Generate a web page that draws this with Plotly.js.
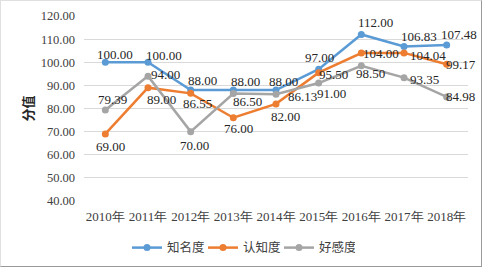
<!DOCTYPE html>
<html>
<head>
<meta charset="utf-8">
<script src="https://cdn.plot.ly/plotly-3.0.1.min.js"></script>
<style>
html,body{margin:0;padding:0;background:#fff;}
#frame{position:absolute;left:0;top:0;width:480px;height:265px;border-left:1px solid #e0e0e0;border-top:1px solid #e0e0e0;border-right:1px solid #9a9a9a;border-bottom:1px solid #9a9a9a;}
#chart{width:480px;height:265px;}
</style>
</head>
<body>
<div id="frame"><div id="chart"></div></div>
<script>
// Data
var years = ["2010年","2011年","2012年","2013年","2014年","2015年","2016年","2017年","2018年"];
var seriesNames = ["知名度","认知度","好感度"];
var zhimingdu = [100, 100, 88, 88, 88, 97, 112, 106.83, 107.48];
var renzhidu = [69, 89, 86.55, 76, 82, 95.5, 104, 104.04, 99.17];
var haoganudu = [79.39, 94, 70, 86.5, 86.13, 91, 98.5, 93.35, 84.98];
var yTicks = [40, 50, 60, 70, 80, 90, 100, 110, 120];

// Styles
var colors = ["#5B9BD5", "#ED7D31", "#A5A5A5"];
// label offsets in px (dx right, dy down)
var labelDx = [
  [10, 16, 12, 12, 7, 1, 14, 15, 12],
  [5, 13, 7, 5, 9, 15, 20, 24, 14],
  [7, 17, 4, 14, 26, 13, 9, 20, 14]
];
var labelDy = [
  [-8, -7, -10, -9, -9, -12, -12, -10, -10],
  [13, 12, 10, 11, 13, 2, 0, 3, 0],
  [-10, -2, 14, 8, 2, 10, 8, 2, 0]
];

var allSeries = [zhimingdu, renzhidu, haoganudu];
var serif = "Liberation Serif";
var traces = allSeries.map(function(vals, i){
  return {
    x: years, y: vals, name: seriesNames[i], type: "scatter", mode: "lines+markers",
    line: {color: colors[i], width: 2.5},
    marker: {color: colors[i], size: 7},
    hoverinfo: "skip"
  };
});

var annotations = [];
allSeries.forEach(function(vals, i){
  vals.forEach(function(v, j){
    annotations.push({
      x: years[j], y: v, xref: "x", yref: "y",
      text: v.toFixed(2), showarrow: false,
      xanchor: "center", yanchor: "middle",
      xshift: labelDx[i][j], yshift: -labelDy[i][j],
      font: {family: serif, size: 13, color: "#262626"}
    });
  });
});
annotations.push({
  text: "<b>分值</b>", xref: "paper", yref: "paper", x: 0, y: 0.5,
  xanchor: "center", yanchor: "middle", xshift: -57, textangle: -90, showarrow: false,
  font: {family: "Noto Sans CJK SC", size: 13, color: "#262626"}
});

var layout = {
  width: 480, height: 265,
  margin: {l: 83, r: 13, t: 15, b: 65},
  paper_bgcolor: "#fff", plot_bgcolor: "#fff",
  showlegend: true,
  legend: {
    orientation: "h", xref: "container", yref: "container",
    x: 0.5, xanchor: "center", y: 0.068, yanchor: "middle",
    entrywidth: 31,
    font: {family: "Noto Sans CJK SC", size: 12.5, color: "#404040"}
  },
  xaxis: {
    type: "category", range: [-0.5, 8.5], showgrid: false, zeroline: false, showline: false,
    ticks: "", ticklabelstandoff: 6,
    tickfont: {family: serif, size: 13, color: "#404040"}
  },
  yaxis: {
    range: [40, 120], tickvals: yTicks, ticktext: yTicks.map(function(t){return t.toFixed(2);}),
    showgrid: true, gridcolor: "#d9d9d9", gridwidth: 1, zeroline: false, showline: false,
    ticks: "", ticklabelstandoff: 8,
    tickfont: {family: serif, size: 12.5, color: "#404040"}
  },
  annotations: annotations
};

Plotly.newPlot("chart", traces, layout, {displayModeBar: false, staticPlot: true});
</script>
</body>
</html>
